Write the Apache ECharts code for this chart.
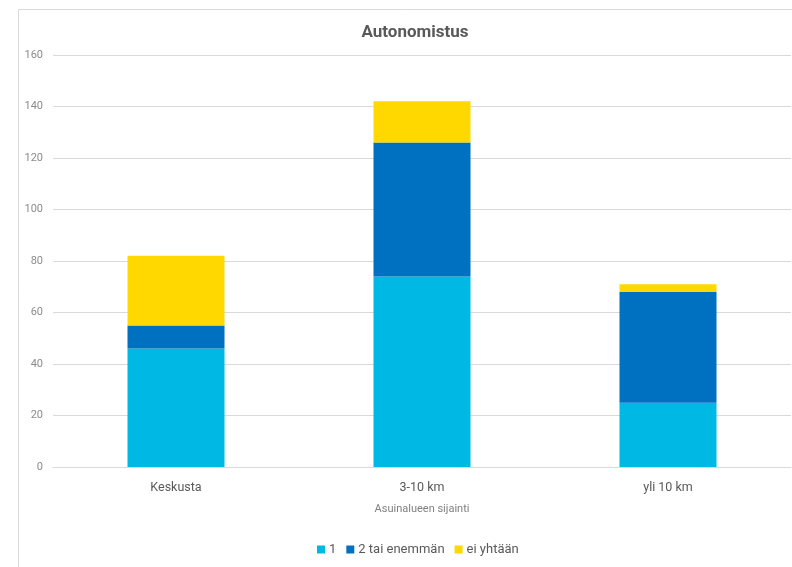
<!DOCTYPE html>
<html>
<head>
<meta charset="utf-8">
<script src="https://cdn.jsdelivr.net/npm/echarts@6/dist/echarts.min.js"></script>
<style>
  html, body { margin: 0; padding: 0; background: #ffffff; }
  #chart { width: 792px; height: 567px; }
</style>
</head>
<body>
<div id="chart"></div>
<script>
// Asuinalueen sijainti -> autojen lukumäärä kotitaloudessa
const categories = ['Keskusta', '3-10 km', 'yli 10 km'];
const yksi = [46, 74, 25];          // 1
const kaksiTaiEnemman = [9, 52, 43]; // 2 tai enemmän
const eiYhtaan = [27, 16, 3];        // ei yhtään
const yTicks = [0, 20, 40, 60, 80, 100, 120, 140, 160];

const font = 'Roboto, "Liberation Sans", sans-serif';
const chart = echarts.init(document.getElementById('chart'), null, { renderer: 'canvas' });

const barStyle = (name, data, color) => ({
  name: name,
  type: 'bar',
  stack: 'total',
  data: data,
  barWidth: 97,
  itemStyle: { color: color },
  emphasis: { disabled: true }
});

chart.setOption({
  animation: false,
  backgroundColor: '#ffffff',
  graphic: [{
    type: 'rect',
    shape: { x: 18.5, y: 9.5, width: 800, height: 600 },
    style: { fill: 'none', stroke: '#d9d9d9', lineWidth: 1 },
    silent: true
  }],
  title: {
    text: 'Autonomistus',
    left: 410,
    top: 19,
    textAlign: 'center',
    textStyle: { fontFamily: font, fontSize: 17, fontWeight: 'bold', color: '#595959' }
  },
  legend: {
    bottom: 6,
    left: 312,
    itemWidth: 8,
    itemHeight: 8,
    itemGap: 10,
    icon: 'rect',
    textStyle: { fontFamily: font, fontSize: 13, color: '#595959', padding: [0, 0, 0, -1] },
    data: ['1', '2 tai enemmän', 'ei yhtään']
  },
  grid: { left: 53, right: 1, top: 55, bottom: 100 },
  xAxis: {
    type: 'category',
    data: categories,
    name: 'Asuinalueen sijainti',
    nameLocation: 'middle',
    nameGap: 37,
    nameTextStyle: { fontFamily: font, fontSize: 11, color: '#808080' },
    axisLine: { lineStyle: { color: '#d9d9d9', width: 1 } },
    axisTick: { show: false },
    axisLabel: { fontFamily: font, fontSize: 12.5, color: '#595959', margin: 14 }
  },
  yAxis: {
    type: 'value',
    min: yTicks[0],
    max: yTicks[yTicks.length - 1],
    interval: 20,
    axisLine: { show: false },
    axisTick: { show: false },
    splitLine: { lineStyle: { color: '#d9d9d9', width: 1 } },
    axisLabel: { fontFamily: font, fontSize: 11, color: '#8c8c8c', margin: 10 }
  },
  series: [
    barStyle('1', yksi, '#00b8e4'),
    barStyle('2 tai enemmän', kaksiTaiEnemman, '#0070c0'),
    barStyle('ei yhtään', eiYhtaan, '#ffd800')
  ]
});
</script>
</body>
</html>
